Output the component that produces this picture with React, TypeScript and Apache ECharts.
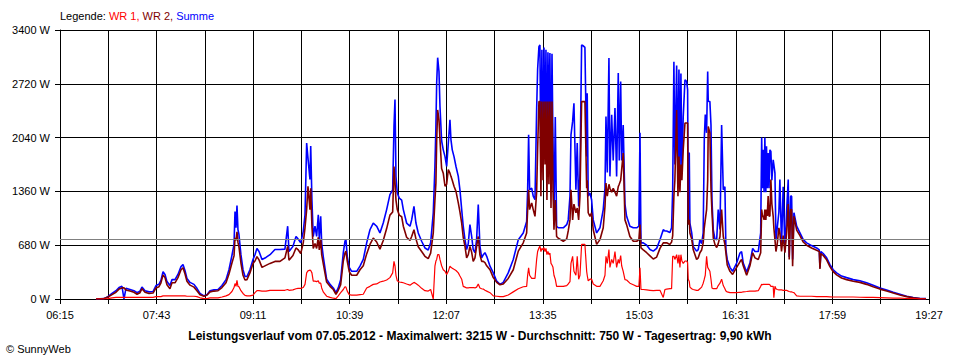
import React, { useEffect, useRef } from "react";
import * as echarts from "echarts";

// Time of each reading, in minutes after 06:15
const minutesAfter0615 = [
  32.8, 40.1, 43.7, 47.4, 51.0, 53.8, 56.5, 58.3, 60.1, 63.8,
  67.4, 70.2, 72.9, 74.7, 77.5, 81.1, 84.8, 87.5, 90.2, 92.0,
  93.9, 95.7, 97.5, 100.2, 102.1, 104.8, 107.5, 110.3, 112.1, 113.9,
  115.7, 118.5, 122.1, 124.8, 127.6, 131.2, 134.0, 136.7, 140.3, 144.0,
  147.6, 151.3, 154.0, 156.7, 158.6, 159.5, 160.4, 161.3, 162.2, 163.1,
  164.9, 166.8, 168.6, 170.4, 173.1, 175.9, 177.7, 179.5, 181.4, 184.1,
  187.7, 191.4, 195.9, 200.5, 205.0, 207.5, 208.7, 212.3, 215.1, 216.9,
  219.4, 221.7, 223.3, 224.8, 226.0, 227.8, 228.5, 229.6, 230.8, 232.4,
  233.9, 235.4, 236.3, 237.6, 238.5, 239.9, 243.0, 246.1, 249.1, 251.5,
  253.6, 255.8, 258.2, 259.7, 260.6, 261.8, 263.6, 265.8, 270.4, 273.4,
  276.4, 279.5, 282.5, 285.5, 288.6, 291.6, 294.6, 297.7, 300.7, 303.2,
  304.4, 305.3, 306.2, 307.4, 309.2, 311.4, 312.9, 315.9, 319.0, 320.5,
  322.6, 324.4, 326.5, 329.6, 332.6, 335.6, 337.8, 340.2, 341.7, 342.6,
  343.3, 344.2, 345.4, 346.3, 347.8, 349.3, 350.9, 352.4, 353.9, 355.4,
  356.3, 357.5, 359.1, 360.9, 363.0, 364.5, 366.1, 367.5, 369.1, 370.6,
  372.1, 373.6, 375.2, 376.6, 378.2, 379.7, 381.2, 382.7, 384.3, 385.8,
  387.3, 388.9, 391.9, 394.9, 398.0, 401.0, 404.0, 408.5, 413.1, 417.7,
  422.2, 425.3, 426.2, 427.1, 428.0, 429.9, 431.3, 432.9, 434.4, 435.3,
  436.5, 437.4, 438.3, 439.2, 440.2, 441.1, 442.0, 442.9, 443.8, 444.7,
  445.6, 446.5, 447.5, 448.4, 449.3, 450.2, 451.4, 452.6, 454.1, 458.7,
  461.8, 463.2, 464.8, 465.7, 467.2, 468.4, 470.2, 471.4, 472.7, 473.9,
  475.4, 476.9, 478.4, 480.0, 480.5, 481.4, 483.0, 484.5, 486.0, 489.1,
  492.1, 495.1, 496.7, 497.6, 498.8, 500.3, 501.2, 502.8, 504.2, 505.8,
  507.3, 508.8, 509.7, 511.0, 511.9, 513.3, 514.9, 516.4, 519.4, 522.5,
  525.6, 527.6, 528.6, 529.5, 531.6, 534.7, 537.7, 540.7, 543.8, 546.8,
  549.8, 551.3, 552.9, 555.9, 557.4, 558.4, 559.5, 560.4, 562.0, 563.2,
  564.1, 565.0, 565.9, 566.8, 568.0, 569.6, 571.1, 572.0, 572.6, 573.5,
  574.1, 575.7, 577.1, 580.2, 581.7, 583.2, 584.8, 586.2, 587.2, 588.1,
  589.3, 590.3, 590.8, 592.3, 593.3, 594.2, 595.4, 596.9, 598.5, 599.9,
  601.5, 603.0, 604.5, 606.0, 606.9, 608.1, 610.6, 613.0, 616.7, 619.7,
  621.2, 622.7, 625.8, 628.8, 631.3, 633.4, 636.4, 638.6, 639.5, 640.2,
  640.9, 641.7, 642.4, 643.3, 643.9, 644.6, 645.4, 646.2, 647.0, 647.9,
  648.8, 650.0, 650.6, 651.6, 652.5, 653.7, 655.2, 656.1, 657.6, 659.1,
  660.7, 662.2, 663.7, 664.6, 665.9, 666.8, 667.7, 668.9, 671.4, 674.4,
  677.4, 680.5, 685.0, 689.6, 692.0, 692.6, 693.5, 695.6, 698.7, 701.7,
  704.7, 707.8, 712.3, 716.9, 722.9, 729.0, 735.1, 741.1, 747.3, 753.4,
  759.4, 765.5, 771.6, 777.6, 783.7, 789.2,
];

// Summe (blue), W
const summeW = [
  0, 5, 30, 70, 105, 145, 160, 0, 135, 120,
  105, 80, 100, 150, 105, 90, 95, 170, 185, 235,
  345, 310, 220, 170, 245, 245, 310, 410, 435, 360,
  260, 210, 185, 135, 70, 40, 55, 105, 115, 120,
  170, 245, 370, 550, 690, 1105, 900, 1180, 875, 815,
  560, 370, 285, 285, 370, 500, 560, 640, 600, 500,
  525, 560, 625, 625, 630, 920, 600, 665, 790, 760,
  710, 855, 1065, 1970, 1780, 1510, 1935, 1255, 790, 920,
  790, 1065, 760, 1045, 700, 540, 250, 185, 140, 80,
  140, 245, 585, 730, 750, 540, 400, 350, 350, 415,
  500, 710, 875, 960, 920, 835, 960, 1130, 1320, 1380,
  2180, 2520, 1550, 1340, 1275, 1250, 1130, 960, 920, 1000,
  1170, 960, 835, 730, 645, 620, 710, 1090, 1675, 2180,
  2730, 3050, 2875, 2435, 2000, 1885, 1800, 1675, 1970, 2265,
  2015, 1885, 1800, 1675, 1550, 1380, 1130, 920, 750, 625,
  700, 940, 790, 625, 585, 750, 1195, 670, 520, 560,
  585, 540, 415, 330, 225, 185, 210, 330, 500, 750,
  835, 980, 1380, 2075, 1380, 1400, 1300, 1255, 2390, 2900,
  3190, 3210, 1600, 3150, 1900, 3180, 2000, 3150, 1600, 3120,
  2200, 3110, 1500, 3100, 2000, 1000, 2300, 920, 900, 900,
  940, 1000, 1300, 2075, 2245, 2475, 1380, 1970, 1170, 1590,
  3210, 3200, 3180, 1800, 2600, 1300, 1340, 1255, 1000, 835,
  900, 1130, 1400, 2305, 1600, 3045, 1550, 2330, 1750, 2415,
  1550, 2855, 1750, 2750, 1750, 2200, 1200, 1045, 920, 900,
  900, 920, 2100, 710, 710, 680, 625, 605, 640, 750,
  875, 860, 860, 840, 900, 1380, 3000, 1700, 2950, 1600,
  2900, 1500, 2850, 1650, 2300, 2770, 2750, 2645, 1000, 1850,
  960, 840, 665, 605, 625, 750, 700, 835, 2015, 2330,
  2100, 2875, 2500, 2495, 2200, 1250, 875, 760, 750, 1130,
  880, 2200, 1380, 1420, 625, 500, 400, 350, 455, 580,
  600, 455, 340, 455, 640, 600, 600, 835, 2040, 1400,
  1885, 1350, 2040, 1350, 1930, 1400, 1845, 1400, 1885, 1865,
  1500, 1760, 1700, 1590, 750, 900, 1100, 1510, 680, 1420,
  600, 1100, 1510, 530, 1300, 1300, 500, 1090, 920, 835,
  750, 710, 675, 645, 620, 395, 600, 575, 520, 435,
  370, 330, 290, 270, 245, 230, 205, 175, 140, 115,
  85, 60, 35, 20, 5, 5,
];

// WR 2 (dark red), W
const wr2W = [
  0, 5, 25, 55, 85, 125, 140, 140, 115, 100,
  85, 60, 80, 130, 85, 70, 75, 140, 155, 205,
  305, 270, 180, 130, 205, 205, 270, 370, 395, 320,
  225, 175, 150, 105, 55, 35, 50, 90, 100, 105,
  145, 205, 315, 455, 545, 775, 740, 850, 715, 660,
  455, 300, 240, 245, 330, 450, 480, 535, 495, 400,
  425, 450, 475, 475, 520, 665, 490, 550, 645, 625,
  575, 710, 900, 1130, 1425, 1130, 1400, 920, 640, 700,
  640, 780, 620, 760, 560, 450, 215, 160, 120, 60,
  110, 180, 480, 580, 605, 480, 345, 300, 300, 370,
  420, 570, 690, 770, 720, 630, 740, 890, 1060, 1100,
  1675, 1480, 1250, 1130, 1060, 1040, 920, 780, 740, 790,
  875, 760, 660, 600, 540, 510, 580, 835, 1250, 1465,
  2000, 2390, 2265, 2015, 1650, 1590, 1425, 1450, 1635, 1590,
  1550, 1500, 1425, 1360, 1215, 1100, 960, 780, 665, 520,
  560, 665, 590, 475, 520, 665, 790, 560, 475, 475,
  460, 420, 370, 270, 210, 180, 190, 260, 370, 605,
  710, 835, 1130, 1380, 1130, 1215, 1130, 1045, 1350, 1885,
  2495, 2495, 1300, 2495, 1500, 2495, 1700, 2495, 1250, 2495,
  1450, 2495, 1150, 2495, 1400, 875, 1250, 790, 770, 730,
  760, 860, 1000, 1380, 1000, 1200, 1090, 1150, 1000, 1300,
  2495, 2495, 2495, 1400, 1500, 1090, 1045, 1090, 875, 690,
  750, 900, 1170, 1465, 1300, 1450, 1400, 1350, 1400, 1350,
  1300, 1420, 1450, 1500, 1635, 1845, 1000, 940, 790, 730,
  730, 750, 940, 645, 620, 585, 545, 505, 530, 640,
  710, 710, 710, 690, 720, 800, 1300, 1500, 2390, 1300,
  1800, 1350, 1700, 1500, 1885, 2225, 2225, 2225, 940, 1000,
  835, 760, 625, 500, 520, 585, 620, 710, 900, 1000,
  1130, 1500, 2180, 2100, 1400, 1100, 770, 690, 650, 700,
  790, 1130, 790, 690, 585, 430, 350, 310, 400, 470,
  500, 420, 300, 420, 585, 520, 500, 585, 1130, 1050,
  1045, 1000, 1130, 1000, 1130, 1050, 1300, 1050, 1045, 1510,
  1200, 1045, 900, 750, 600, 700, 900, 830, 600, 800,
  585, 830, 1200, 500, 1130, 1130, 415, 1045, 870, 800,
  720, 680, 645, 615, 600, 380, 575, 550, 495, 410,
  345, 305, 265, 245, 225, 210, 185, 155, 125, 100,
  75, 50, 30, 15, 5, 3,
];

// WR 1 (red), W
const wr1W = [
  0, 0, 5, 15, 20, 20, 20, 20, 20, 20,
  20, 20, 20, 20, 20, 20, 20, 30, 30, 30,
  40, 40, 40, 40, 40, 40, 40, 40, 40, 40,
  35, 35, 35, 30, 15, 5, 5, 15, 15, 15,
  25, 40, 55, 95, 145, 195, 160, 235, 160, 155,
  105, 70, 45, 40, 40, 50, 80, 105, 105, 100,
  100, 110, 110, 110, 110, 120, 110, 115, 130, 135,
  135, 145, 185, 330, 355, 365, 360, 330, 225, 225,
  220, 230, 200, 200, 140, 90, 35, 20, 10, 5,
  40, 80, 120, 155, 150, 100, 55, 50, 50, 55,
  60, 140, 160, 185, 190, 215, 225, 240, 270, 330,
  475, 420, 300, 230, 215, 210, 205, 190, 175, 190,
  210, 195, 175, 135, 105, 100, 120, 0, 415, 480,
  500, 560, 560, 500, 420, 370, 350, 310, 350, 415,
  400, 390, 375, 360, 330, 290, 250, 160, 150, 140,
  140, 145, 145, 145, 140, 150, 190, 140, 130, 125,
  110, 100, 80, 40, 35, 30, 30, 50, 90, 130,
  155, 160, 300, 395, 300, 260, 260, 260, 500, 600,
  645, 670, 600, 640, 620, 650, 600, 640, 560, 600,
  560, 580, 450, 430, 400, 300, 250, 160, 160, 160,
  170, 190, 220, 450, 540, 350, 300, 540, 250, 300,
  690, 690, 690, 350, 300, 230, 250, 250, 190, 160,
  160, 230, 300, 540, 450, 625, 400, 500, 450, 600,
  400, 500, 450, 550, 420, 350, 245, 240, 200, 180,
  160, 160, 395, 120, 120, 115, 110, 105, 110, 110,
  20, 120, 125, 130, 130, 540, 540, 500, 560, 450,
  560, 400, 560, 480, 450, 480, 480, 460, 250, 220,
  150, 130, 120, 110, 110, 130, 150, 200, 250, 300,
  540, 400, 400, 350, 250, 140, 130, 130, 130, 170,
  200, 250, 170, 130, 100, 90, 80, 80, 80, 85,
  85, 90, 95, 100, 100, 100, 105, 160, 185, 180,
  185, 185, 185, 185, 185, 185, 185, 185, 180, 160,
  160, 160, 15, 160, 130, 120, 115, 115, 115, 110,
  110, 110, 100, 95, 90, 90, 85, 80, 40, 35,
  35, 35, 35, 30, 30, 30, 30, 30, 30, 28,
  25, 25, 25, 25, 25, 22, 20, 20, 18, 15,
  12, 10, 6, 4, 2, 0,
];

const averageW = 750;
const yMax = 3400;
const yStep = 680;
const xSpanMinutes = 792; // 06:15 .. 19:27
const gridStepMinutes = 44;
const labelStepMinutes = 88;
const startMinuteOfDay = 375; // 06:15

const titleText =
  "Leistungsverlauf vom 07.05.2012 - Maximalwert: 3215 W - Durchschnitt: 750 W - Tagesertrag: 9,90 kWh";
const copyrightText = "\u00A9 SunnyWeb";

const FONT = '"Liberation Sans", Arial, sans-serif';

function toClock(offset: number): string {
  const t = Math.round(startMinuteOfDay + offset);
  const h = Math.floor(t / 60);
  const m = t % 60;
  return String(h).padStart(2, "0") + ":" + String(m).padStart(2, "0");
}

function pairs(values: number[]) {
  return minutesAfter0615.map((m, i) => [m, values[i]]);
}

export default function App() {
  const ref = useRef<HTMLDivElement>(null);

  useEffect(() => {
    document.body.style.margin = "0";
    const chart = echarts.init(ref.current as HTMLDivElement, null, { renderer: "svg" });
    chart.setOption({
      animation: false,
      backgroundColor: "#ffffff",
      textStyle: { fontFamily: FONT },
      grid: { left: 60, right: 31, top: 30, bottom: 61, containLabel: false },
      xAxis: {
        type: "value",
        min: 0,
        max: xSpanMinutes,
        interval: gridStepMinutes,
        axisLine: { show: true, lineStyle: { color: "#000", width: 1 } },
        axisTick: { show: true, length: 5, lineStyle: { color: "#000", width: 1 } },
        splitLine: { show: true, lineStyle: { color: "#000", width: 1 } },
        axisLabel: {
          color: "#000",
          fontSize: 11,
          fontFamily: FONT,
          margin: 10,
          showMinLabel: true,
          showMaxLabel: true,
          formatter: (v: number) => (Math.round(v) % labelStepMinutes === 0 ? toClock(v) : ""),
        },
      },
      yAxis: {
        type: "value",
        min: 0,
        max: yMax,
        interval: yStep,
        axisLine: { show: true, lineStyle: { color: "#000", width: 1 } },
        axisTick: { show: true, length: 5, lineStyle: { color: "#000", width: 1 } },
        splitLine: { show: true, lineStyle: { color: "#000", width: 1 } },
        axisLabel: {
          color: "#000",
          fontSize: 11,
          fontFamily: FONT,
          margin: 10,
          formatter: (v: number) => String(Math.round(v)) + " W",
        },
      },
      series: [
        {
          name: "Summe",
          type: "line",
          data: pairs(summeW),
          showSymbol: false,
          symbol: "none",
          z: 2,
          lineStyle: { color: "#0000ff", width: 1.6 },
          itemStyle: { color: "#0000ff" },
        },
        {
          name: "WR 2",
          type: "line",
          data: pairs(wr2W),
          showSymbol: false,
          symbol: "none",
          z: 3,
          lineStyle: { color: "#800000", width: 1.6 },
          itemStyle: { color: "#800000" },
        },
        {
          name: "WR 1",
          type: "line",
          data: pairs(wr1W),
          showSymbol: false,
          symbol: "none",
          z: 4,
          lineStyle: { color: "#ff0000", width: 1.2 },
          itemStyle: { color: "#ff0000" },
          markLine: {
            silent: true,
            symbol: ["none", "none"],
            label: { show: false },
            lineStyle: { color: "#808080", type: "solid", width: 1.2 },
            data: [{ yAxis: averageW }],
          },
        },
      ],
      graphic: [
        {
          type: "text",
          x: 60,
          y: 16,
          style: {
            text: "{k|Legende: }{a|WR 1, }{b|WR 2, }{c|Summe}",
            fontSize: 11,
            fontFamily: FONT,
            verticalAlign: "middle",
            rich: {
              k: { fill: "#000000", fontSize: 11, fontFamily: FONT },
              a: { fill: "#ff0000", fontSize: 11, fontFamily: FONT },
              b: { fill: "#800000", fontSize: 11, fontFamily: FONT },
              c: { fill: "#0000ff", fontSize: 11, fontFamily: FONT },
            },
          },
        },
        {
          type: "text",
          x: 480,
          y: 336,
          style: {
            text: titleText,
            font: 'bold 12px "Liberation Sans", Arial, sans-serif',
            fill: "#000",
            align: "center",
            verticalAlign: "middle",
          },
        },
        {
          type: "text",
          x: 6,
          y: 349,
          style: {
            text: copyrightText,
            fontSize: 11,
            fontFamily: FONT,
            fill: "#000",
            verticalAlign: "middle",
          },
        },
      ],
    });
    return () => chart.dispose();
  }, []);

  return <div ref={ref} style={{ width: 960, height: 360 }} />;
}
